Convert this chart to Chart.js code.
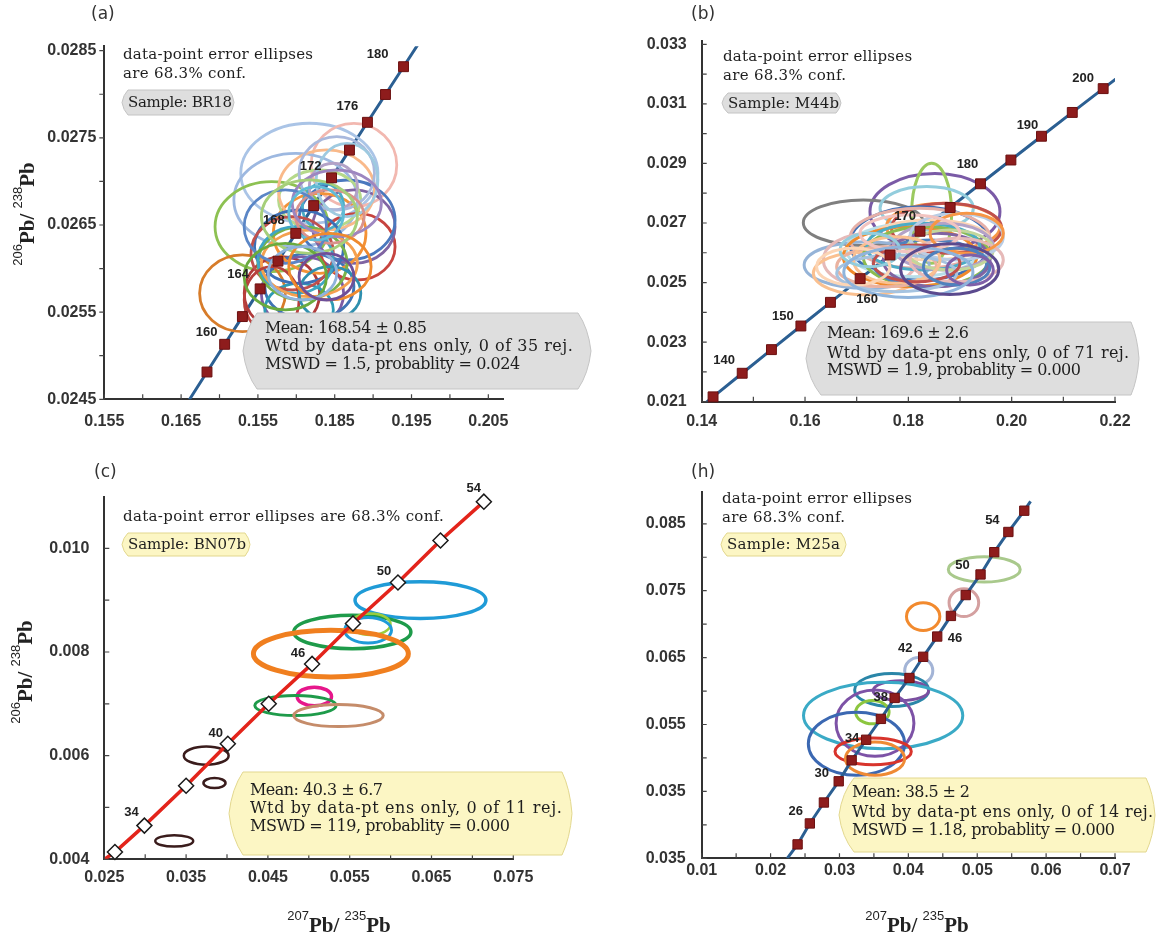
<!DOCTYPE html>
<html>
<head>
<meta charset="utf-8">
<title>U-Pb concordia diagrams</title>
<script src="https://cdn.jsdelivr.net/npm/chart.js@4.4.1/dist/chart.umd.min.js"></script>
<style>
  body { margin: 0; background: #fff; }
  #wrap { position: relative; width: 1160px; height: 942px; overflow: hidden; }
  canvas { position: absolute; }
</style>
</head>
<body>
<div id="wrap">
  <canvas id="chartA" width="600" height="450" style="left:0;top:0"></canvas>
  <canvas id="chartB" width="580" height="450" style="left:580px;top:0"></canvas>
  <canvas id="chartC" width="580" height="492" style="left:0;top:450px"></canvas>
  <canvas id="chartH" width="580" height="492" style="left:580px;top:450px"></canvas>
</div>
<script>
// ---------- (a) sample BR18 ----------
const aAgeLabels = ['', '160', '', '164', '', '168', '', '172', '', '176', '', '180'];
const aConcX = [0.16837, 0.17067, 0.17298, 0.17529, 0.17761, 0.17993, 0.18226, 0.18459, 0.18692, 0.18926, 0.19161, 0.19396];
const aConcY = [0.024813, 0.025131, 0.025449, 0.025767, 0.026085, 0.026404, 0.026722, 0.027041, 0.027359, 0.027678, 0.027997, 0.028316];
const aLineX = [0.16607, 0.19631];
const aLineY = [0.024495, 0.028635];
const aEllX  = [0.18170, 0.18750, 0.17991, 0.17679, 0.17299, 0.17813, 0.18080, 0.18170, 0.18036, 0.18795, 0.18750, 0.18661, 0.18304, 0.18304, 0.18393, 0.18348, 0.18482, 0.18036, 0.17946, 0.18080, 0.17991, 0.18170, 0.18527, 0.18661, 0.18438, 0.18527, 0.17857, 0.18170, 0.18259, 0.17679, 0.18438, 0.18438, 0.17857, 0.18080, 0.18393];
const aEllY  = [0.027093, 0.027188, 0.026787, 0.026481, 0.025716, 0.025716, 0.025716, 0.025793, 0.025525, 0.026251, 0.026481, 0.026557, 0.026404, 0.026787, 0.026902, 0.026710, 0.026940, 0.026251, 0.026175, 0.026060, 0.026098, 0.026060, 0.027093, 0.027016, 0.026596, 0.026749, 0.026481, 0.026596, 0.026634, 0.025640, 0.025716, 0.026022, 0.025907, 0.025946, 0.025907];
const aEllRx = [0.00893, 0.00558, 0.00804, 0.00737, 0.00558, 0.00491, 0.00536, 0.00580, 0.00446, 0.00491, 0.00536, 0.00625, 0.00603, 0.00536, 0.00625, 0.00268, 0.00313, 0.00580, 0.00536, 0.00580, 0.00491, 0.00625, 0.00491, 0.00402, 0.00446, 0.00580, 0.00536, 0.00625, 0.00357, 0.00357, 0.00402, 0.00536, 0.00536, 0.00446, 0.00357];
const aEllRy = [0.000574, 0.000478, 0.000535, 0.000516, 0.000440, 0.000421, 0.000421, 0.000382, 0.000306, 0.000382, 0.000421, 0.000459, 0.000459, 0.000344, 0.000459, 0.000268, 0.000268, 0.000421, 0.000421, 0.000421, 0.000382, 0.000382, 0.000421, 0.000421, 0.000306, 0.000382, 0.000421, 0.000421, 0.000306, 0.000382, 0.000306, 0.000382, 0.000382, 0.000306, 0.000268];
const aXTicks = [0.155, 0.160, 0.165, 0.170, 0.175, 0.180, 0.185, 0.190, 0.195, 0.200, 0.205];
const aXTickLabels = ['0.155', '', '0.165', '', '0.155', '', '0.185', '', '0.195', '', '0.205'];
const aYTicks = [0.0245, 0.0250, 0.0255, 0.0260, 0.0265, 0.0270, 0.0275, 0.0280, 0.0285];
const aYTickLabels = ['0.0245', '', '0.0255', '', '0.0265', '', '0.0275', '', '0.0285'];
const aMean = ['Mean: 168.54 \u00b1 0.85', 'Wtd by data-pt ens only, 0 of 35 rej.', 'MSWD = 1.5, probablity = 0.024'];

// ---------- (b) sample M44b ----------
const bAgeLabels = ['', '140', '', '150', '', '160', '', '170', '', '180', '', '190', '', '200'];
const bConcX = [0.14220, 0.14784, 0.15350, 0.15920, 0.16492, 0.17067, 0.17645, 0.18226, 0.18809, 0.19396, 0.19985, 0.20577, 0.21173, 0.21771];
const bConcY = [0.021163, 0.021955, 0.022748, 0.023542, 0.024336, 0.025131, 0.025926, 0.026722, 0.027519, 0.028316, 0.029114, 0.029912, 0.030712, 0.031511];
const bLineX = [0.13995, 0.22131];
const bLineY = [0.020846, 0.031991];
const bEllX  = [0.18515, 0.18451, 0.17128, 0.18355, 0.18676, 0.18740, 0.18225, 0.18225, 0.17193, 0.17257, 0.17193, 0.18096, 0.18418, 0.18031, 0.18355, 0.18418, 0.18548, 0.18289, 0.18676, 0.17580, 0.18805, 0.18935, 0.17774, 0.17774, 0.18935, 0.18161, 0.19129, 0.17257, 0.16934, 0.18031, 0.18935, 0.19193, 0.18000, 0.18800];
const bEllY  = [0.027379, 0.027325, 0.027010, 0.027493, 0.026876, 0.026822, 0.026318, 0.026486, 0.025590, 0.025758, 0.025311, 0.026093, 0.026429, 0.025869, 0.025869, 0.025645, 0.025758, 0.026205, 0.026205, 0.025534, 0.026093, 0.026540, 0.025311, 0.025758, 0.025758, 0.025645, 0.026654, 0.026093, 0.025534, 0.026654, 0.025534, 0.025422, 0.025350, 0.025450];
const bEllRx = [0.01258, 0.00387, 0.01161, 0.00903, 0.01097, 0.01065, 0.01355, 0.01355, 0.01210, 0.00903, 0.01032, 0.01290, 0.01161, 0.01290, 0.01226, 0.01097, 0.01032, 0.01097, 0.00968, 0.00968, 0.00839, 0.00903, 0.01161, 0.00839, 0.00903, 0.00839, 0.00710, 0.00580, 0.00710, 0.00968, 0.00645, 0.00452, 0.01250, 0.00950];
const bEllRy = [0.001286, 0.001680, 0.000762, 0.000728, 0.000784, 0.000840, 0.001230, 0.001007, 0.000784, 0.000895, 0.000727, 0.000895, 0.000672, 0.001007, 0.001007, 0.000784, 0.000895, 0.000784, 0.000784, 0.000672, 0.000672, 0.000784, 0.000616, 0.000784, 0.000727, 0.000616, 0.000672, 0.000560, 0.000616, 0.000616, 0.000616, 0.000504, 0.000850, 0.000850];
const bXTicks = [0.14, 0.15, 0.16, 0.17, 0.18, 0.19, 0.20, 0.21, 0.22];
const bXTickLabels = ['0.14', '', '0.16', '', '0.18', '', '0.20', '', '0.22'];
const bYTicks = [0.021, 0.022, 0.023, 0.024, 0.025, 0.026, 0.027, 0.028, 0.029, 0.030, 0.031, 0.032, 0.033];
const bYTickLabels = ['0.021', '', '0.023', '', '0.025', '', '0.027', '', '0.029', '', '0.031', '', '0.033'];
const bMean = ['Mean: 169.6 \u00b1 2.6', 'Wtd by data-pt ens only, 0 of 71 rej.', 'MSWD = 1.9, probablity = 0.000'];

// ---------- (c) sample BN07b ----------
const cAgeLabels = ['', '34', '', '40', '', '46', '', '50', '', '54'];
const cConcX = [0.0263, 0.0299, 0.0350, 0.0401, 0.0451, 0.0504, 0.0554, 0.0609, 0.0661, 0.0714];
const cConcY = [0.00414, 0.00465, 0.00542, 0.00623, 0.00700, 0.00777, 0.00855, 0.00934, 0.01015, 0.01090];
const cLineX = [0.0250, 0.0717];
const cLineY = [0.00400, 0.01094];
const cEllX  = [0.06365, 0.05532, 0.05755, 0.05725, 0.05270, 0.05068, 0.04837, 0.05363, 0.03746, 0.03847, 0.03355];
const cEllY  = [0.009000, 0.008387, 0.008535, 0.008420, 0.007968, 0.007142, 0.006968, 0.006774, 0.006000, 0.005471, 0.004355];
const cEllRx = [0.00800, 0.00716, 0.00244, 0.00286, 0.00947, 0.00210, 0.00497, 0.00547, 0.00274, 0.00135, 0.00232];
const cEllRy = [0.000355, 0.000323, 0.000206, 0.000245, 0.000452, 0.000180, 0.000194, 0.000213, 0.000174, 0.000097, 0.000110];
const cXTicks = [0.025, 0.030, 0.035, 0.040, 0.045, 0.050, 0.055, 0.060, 0.065, 0.070, 0.075];
const cXTickLabels = ['0.025', '', '0.035', '', '0.045', '', '0.055', '', '0.065', '', '0.075'];
const cYTicks = [0.004, 0.005, 0.006, 0.007, 0.008, 0.009, 0.010];
const cYTickLabels = ['0.004', '', '0.006', '', '0.008', '', '0.010'];
const cMean = ['Mean: 40.3 \u00b1 6.7', 'Wtd by data-pt ens only, 0 of 11 rej.', 'MSWD = 119, probablity = 0.000'];

// ---------- (h) sample M25a ----------
const hAgeLabels = ['', '26', '', '30', '', '34', '', '38', '', '42', '', '46', '', '50', '', '54', ''];
const hConcX = [0.02392, 0.02570, 0.02774, 0.02989, 0.03177, 0.03387, 0.03602, 0.03801, 0.04016, 0.04215, 0.04419, 0.04618, 0.04833, 0.05048, 0.05247, 0.05452, 0.05683];
const hConcY = [0.03708, 0.04021, 0.04334, 0.04651, 0.04964, 0.05272, 0.05584, 0.05897, 0.06195, 0.06512, 0.06815, 0.07123, 0.07435, 0.07743, 0.08076, 0.08378, 0.08696];
const hLineX = [0.02242, 0.05774];
const hLineY = [0.03500, 0.08835];
const hEllX  = [0.05102, 0.04806, 0.04215, 0.04151, 0.03758, 0.03892, 0.03634, 0.03478, 0.03516, 0.03247, 0.03489, 0.03516];
const hEllY  = [0.07818, 0.07321, 0.07113, 0.06304, 0.06016, 0.06006, 0.05634, 0.05684, 0.05520, 0.05212, 0.05098, 0.04989];
const hEllRx = [0.00522, 0.00215, 0.00242, 0.00204, 0.00538, 0.00403, 0.01156, 0.00242, 0.00565, 0.00699, 0.00554, 0.00430];
const hEllRy = [0.00189, 0.00208, 0.00208, 0.00199, 0.00248, 0.00149, 0.00496, 0.00174, 0.00496, 0.00471, 0.00199, 0.00248];
const hXTicks = [0.010, 0.015, 0.020, 0.025, 0.030, 0.035, 0.040, 0.045, 0.050, 0.055, 0.060, 0.065, 0.070];
const hXTickLabels = ['0.01', '', '0.02', '', '0.03', '', '0.04', '', '0.05', '', '0.06', '', '0.07'];
const hYTicks = [0.035, 0.040, 0.045, 0.050, 0.055, 0.060, 0.065, 0.070, 0.075, 0.080, 0.085];
const hYTickLabels = ['0.035', '', '0.035', '', '0.055', '', '0.065', '', '0.075', '', '0.085'];
const hMean = ['Mean: 38.5 \u00b1 2', 'Wtd by data-pt ens only, 0 of 14 rej.', 'MSWD = 1.18, probablity = 0.000'];

// ---------- colours ----------
const aEllColors = ['#aac4e6', '#f2b8b0', '#9db8e0', '#8dc152', '#d77c2a', '#b03a3a', '#7d5ca5', '#3f73b5', '#2e9bb5', '#c7443f', '#8064a2', '#4a78be', '#f39237', '#b5d98a', '#f9b98a', '#4bacc6', '#b3a2c7', '#3d6fb6', '#c0504d', '#79b34a', '#3fa6c4', '#f5a04f', '#a9b9dd', '#9ecae0', '#d9928c', '#9d86c0', '#5b86c6', '#a6cf7a', '#61bcd6', '#b8403c', '#2f8fae', '#ef8a2e', '#6aab3e', '#8fb3dd', '#6f4f98'];
const bEllColors = ['#7a5aa6', '#9bc95f', '#7f7f7f', '#93cddd', '#f79646', '#c0504d', '#3f6fb5', '#e6b0a8', '#95b3d7', '#e6b9b8', '#fac090', '#b7dee8', '#fbd4b4', '#f08a2c', '#8dbb4f', '#4f81bd', '#8064a2', '#4bacc6', '#b3a2c7', '#eab2a0', '#c3d69b', '#b9cde5', '#a5c3e0', '#fac090', '#e6b9b8', '#c0504d', '#f79646', '#93cddd', '#fcd5b5', '#f2c4c0', '#4f81bd', '#7f5fa8', '#8fb4dc', '#5b4a8e'];
const cEllColors = ['#1f9bd7', '#1e9b4a', '#9acd3c', '#1f9bd7', '#f07f1f', '#e6178b', '#1e9b4a', '#c58c6a', '#3a1c1c', '#3a1c1c', '#3a1c1c'];
const cEllWidths = [3.5, 3.5, 2.5, 3, 5, 3.5, 3, 3, 2.5, 2.5, 2.5];
const hEllColors = ['#a9c98c', '#d4a0a0', '#f28a2e', '#a3b4d6', '#2a86a8', '#7b4fa0', '#3aaac6', '#8cc63f', '#7d52a6', '#3b68b2', '#d8342c', '#ef8a34'];

const GREY = {fill: '#dedede', stroke: '#c4c4c4'};
const YELLOW = {fill: '#fcf6c4', stroke: '#e2d78e'};
const SERIF = '"DejaVu Serif", "Liberation Serif", serif';

// text widths (px) measured on the original figure, used to stretch the wide slab font
const panels = [
  {
    id: 'chartA', tag: '(a)', W: 600, H: 450,
    area: {left: 104.3, right: 503.3, top: 46.3, bottom: 399.3},
    xMin: 0.155, xMax: 0.20695, yMin: 0.0245, yMax: 0.02855,
    xTicks: aXTicks, xLabels: aXTickLabels, yTicks: aYTicks, yLabels: aYTickLabels,
    xPad: 13, yPad: 8, yTickOut: true,
    concX: aConcX, concY: aConcY, lineX: aLineX, lineY: aLineY, ageLabels: aAgeLabels,
    ageOff: {'160': [-18, -12], '164': [-22, -14], '168': [-22, -13], '172': [-21, -11], '176': [-20, -16], '180': [-26, -12]},
    marker: {style: 'rect', r: 7, fill: '#8e1c1c', stroke: '#6b1010', bw: 1},
    lineColor: '#2b5f92', lineW: 3,
    ell: {x: aEllX, y: aEllY, rx: aEllRx, ry: aEllRy, colors: aEllColors, w: 2.8, over: true},
    note: {x: 123, ys: [55, 74], lines: ['data-point error ellipses', 'are 68.3% conf.'], widths: [190, 123]},
    sample: {box: [122, 90, 234, 115], text: 'Sample: BR18', tx: 128, width: 104, col: GREY},
    mean: {box: [243, 313, 591, 389], dl: 14, dr: 13, tx: 265, ys: [329, 347, 365], lines: aMean, widths: [162, 308, 255], col: GREY},
    tagPos: [91, 15], yTitle: [27, 214], xTitle: null
  },
  {
    id: 'chartB', tag: '(b)', W: 580, H: 450,
    area: {left: 121.7, right: 535, top: 41.3, bottom: 401.7},
    xMin: 0.14, xMax: 0.22, yMin: 0.021, yMax: 0.0331,
    xTicks: bXTicks, xLabels: bXTickLabels, yTicks: bYTicks, yLabels: bYTickLabels,
    xPad: 10, yPad: 15, yTickOut: false,
    concX: bConcX, concY: bConcY, lineX: bLineX, lineY: bLineY, ageLabels: bAgeLabels,
    ageOff: {'140': [-18, -13], '150': [-18, -10], '160': [7, 21], '170': [-15, -15], '180': [-13, -19], '190': [-14, -11], '200': [-20, -10]},
    marker: {style: 'rect', r: 7, fill: '#8e1c1c', stroke: '#6b1010', bw: 1},
    lineColor: '#2b5f92', lineW: 3,
    ell: {x: bEllX, y: bEllY, rx: bEllRx, ry: bEllRy, colors: bEllColors, w: 3, over: true},
    note: {x: 143, ys: [57, 76], lines: ['data-point error ellipses', 'are 68.3% conf.'], widths: [189, 123]},
    sample: {box: [142, 93, 261, 113], text: 'Sample: M44b', tx: 148, width: 111, col: GREY},
    mean: {box: [226, 322, 559, 395], dl: 15, dr: 8, tx: 247, ys: [334, 354, 371], lines: bMean, widths: [142, 302, 254], col: GREY},
    tagPos: [111, 15], yTitle: null, xTitle: null
  },
  {
    id: 'chartC', tag: '(c)', W: 580, H: 492,
    area: {left: 104.3, right: 513.3, top: 46.5, bottom: 409.3},
    xMin: 0.025, xMax: 0.075, yMin: 0.004, yMax: 0.0110,
    xTicks: cXTicks, xLabels: cXTickLabels, yTicks: cYTicks, yLabels: cYTickLabels,
    xPad: 9, yPad: 15, yTickOut: false,
    concX: cConcX, concY: cConcY, lineX: cLineX, lineY: cLineY, ageLabels: cAgeLabels,
    ageOff: {'34': [-13, -13], '40': [-12, -10], '46': [-14, -10], '50': [-14, -11], '54': [-10, -13]},
    marker: {style: 'rectRot', r: 7.5, fill: '#ffffff', stroke: '#1a1a1a', bw: 1.5},
    lineColor: '#e3241b', lineW: 3.5,
    ell: {x: cEllX, y: cEllY, rx: cEllRx, ry: cEllRy, colors: cEllColors, widths: cEllWidths, over: false},
    note: {x: 123, ys: [67], lines: ['data-point error ellipses are 68.3% conf.'], widths: [321]},
    sample: {box: [122, 83, 250, 106], text: 'Sample: BN07b', tx: 128, width: 118, col: YELLOW},
    mean: {box: [229, 322, 572, 405], dl: 14, dr: 10, tx: 250, ys: [341, 359, 377], lines: cMean, widths: [133, 312, 260], col: YELLOW},
    tagPos: [94, 23], yTitle: [25, 222], xTitle: [339, 475]
  },
  {
    id: 'chartH', tag: '(h)', W: 580, H: 492,
    area: {left: 121.7, right: 535, top: 41.7, bottom: 408.3},
    xMin: 0.01, xMax: 0.07, yMin: 0.035, yMax: 0.0898,
    xTicks: hXTicks, xLabels: hXTickLabels, yTicks: hYTicks, yLabels: hYTickLabels,
    xPad: 3, yPad: 16, yTickOut: false,
    concX: hConcX, concY: hConcY, lineX: hLineX, lineY: hLineY, ageLabels: hAgeLabels,
    ageOff: {'26': [-14, -12], '30': [-17, -8], '34': [-14, -1], '38': [-14, -1], '42': [-18, -8], '46': [4, 22], '50': [-18, -9], '54': [-16, -12]},
    marker: {style: 'rect', r: 6.6, fill: '#8e1c1c', stroke: '#6b1010', bw: 1},
    lineColor: '#2b5f92', lineW: 3,
    ell: {x: hEllX, y: hEllY, rx: hEllRx, ry: hEllRy, colors: hEllColors, w: 3, over: false},
    note: {x: 142, ys: [49, 68], lines: ['data-point error ellipses', 'are 68.3% conf.'], widths: [190, 123]},
    sample: {box: [141, 83, 266, 106], text: 'Sample: M25a', tx: 147, width: 113, col: YELLOW},
    mean: {box: [259, 328, 575, 402], dl: 15, dr: 9, tx: 272, ys: [343, 363, 381], lines: hMean, widths: [118, 301, 263], col: YELLOW},
    tagPos: [111, 23], yTitle: null, xTitle: [337, 475]
  }
];

function drawEllipses(chart, p) {
  const {ctx, scales: {x, y}} = chart;
  const e = p.ell;
  ctx.save();
  e.x.forEach((cx, i) => {
    const px = x.getPixelForValue(cx);
    const py = y.getPixelForValue(e.y[i]);
    const rx = Math.abs(x.getPixelForValue(cx + e.rx[i]) - px);
    const ry = Math.abs(y.getPixelForValue(e.y[i] + e.ry[i]) - py);
    ctx.beginPath();
    ctx.ellipse(px, py, rx, ry, 0, 0, Math.PI * 2);
    ctx.strokeStyle = e.colors[i];
    ctx.lineWidth = e.widths ? e.widths[i] : e.w;
    ctx.stroke();
  });
  ctx.restore();
}

function drawTicks(chart, p) {
  const {ctx, chartArea: a, scales: {x, y}} = chart;
  ctx.save();
  ctx.strokeStyle = '#444';
  ctx.lineWidth = 1.2;
  ctx.beginPath();
  p.xTicks.forEach(v => {
    const px = x.getPixelForValue(v);
    ctx.moveTo(px, a.bottom);
    ctx.lineTo(px, a.bottom - 5);
  });
  p.yTicks.forEach(v => {
    const py = y.getPixelForValue(v);
    ctx.moveTo(a.left, py);
    ctx.lineTo(p.yTickOut ? a.left - 5 : a.left + 5, py);
  });
  ctx.stroke();
  ctx.restore();
}

function drawAgeLabels(chart, p) {
  const {ctx, scales: {x, y}} = chart;
  ctx.save();
  ctx.font = 'bold 13px "Liberation Sans", Arial, sans-serif';
  ctx.fillStyle = '#222';
  ctx.textAlign = 'center';
  ctx.textBaseline = 'middle';
  p.ageLabels.forEach((lab, i) => {
    if (!lab) return;
    const off = p.ageOff[lab] || [-18, -12];
    ctx.fillText(lab, x.getPixelForValue(p.concX[i]) + off[0], y.getPixelForValue(p.concY[i]) + off[1]);
  });
  ctx.restore();
}

function banner(ctx, b, dl, dr, col) {
  const [x0, y0, x1, y1] = b;
  const h = y1 - y0, ym = (y0 + y1) / 2;
  ctx.beginPath();
  ctx.moveTo(x0 + dl, y0);
  ctx.lineTo(x1 - dr, y0);
  ctx.quadraticCurveTo(x1 - dr * 0.2, y0 + h * 0.2, x1, ym);
  ctx.quadraticCurveTo(x1 - dr * 0.2, y1 - h * 0.2, x1 - dr, y1);
  ctx.lineTo(x0 + dl, y1);
  ctx.quadraticCurveTo(x0 + dl * 0.2, y1 - h * 0.2, x0, ym);
  ctx.quadraticCurveTo(x0 + dl * 0.2, y0 + h * 0.2, x0 + dl, y0);
  ctx.closePath();
  ctx.fillStyle = col.fill;
  ctx.fill();
  ctx.strokeStyle = col.stroke;
  ctx.lineWidth = 1;
  ctx.stroke();
}

// draw a string stretched (via letter spacing) to the width it has in the figure
function fitText(ctx, text, x, y, width) {
  ctx.letterSpacing = '0px';
  const w = ctx.measureText(text).width;
  const ls = (width - w) / Math.max(text.length - 1, 1);
  ctx.letterSpacing = ls.toFixed(2) + 'px';
  ctx.fillText(text, x, y);
  ctx.letterSpacing = '0px';
}

function isotopeTitle(ctx, cx, cy, rotated, supA, supB) {
  const big = 'bold 21px "Liberation Serif", serif';
  const small = '13px "Liberation Sans", sans-serif';
  const parts = [[supA, small, -12], ['Pb/', big, 0], [' ', big, 0], [supB, small, -12], ['Pb', big, 0]];
  ctx.save();
  ctx.translate(cx, cy);
  if (rotated) ctx.rotate(-Math.PI / 2);
  let w = 0;
  parts.forEach(pt => { ctx.font = pt[1]; w += ctx.measureText(pt[0]).width; });
  let px = -w / 2;
  ctx.fillStyle = '#222';
  ctx.textAlign = 'left';
  ctx.textBaseline = 'alphabetic';
  parts.forEach(pt => {
    ctx.font = pt[1];
    ctx.fillText(pt[0], px, 7 + pt[2]);
    px += ctx.measureText(pt[0]).width;
  });
  ctx.restore();
}

function drawNotes(chart, p) {
  const ctx = chart.ctx;
  ctx.save();
  ctx.textAlign = 'left';
  ctx.textBaseline = 'middle';
  ctx.fillStyle = '#333';
  ctx.font = '17px "DejaVu Sans", sans-serif';
  ctx.fillText(p.tag, p.tagPos[0], p.tagPos[1]);

  ctx.fillStyle = '#1e1e1e';
  ctx.font = '15px ' + SERIF;
  p.note.lines.forEach((t, i) => fitText(ctx, t, p.note.x, p.note.ys[i], p.note.widths[i]));

  const s = p.sample;
  banner(ctx, s.box, 6, 5, s.col);
  ctx.fillStyle = '#1e1e1e';
  ctx.font = '15px ' + SERIF;
  fitText(ctx, s.text, s.tx, (s.box[1] + s.box[3]) / 2 + 1, s.width);

  const m = p.mean;
  banner(ctx, m.box, m.dl, m.dr, m.col);
  ctx.fillStyle = '#1e1e1e';
  ctx.font = '16px ' + SERIF;
  m.lines.forEach((t, i) => fitText(ctx, t, m.tx, m.ys[i], m.widths[i]));
  ctx.restore();

  if (p.yTitle) isotopeTitle(ctx, p.yTitle[0], p.yTitle[1], true, '206', '238');
  if (p.xTitle) isotopeTitle(ctx, p.xTitle[0], p.xTitle[1], false, '207', '235');
}

function buildChart(p) {
  const markers = p.concX.map((v, i) => ({x: v, y: p.concY[i]}));
  const curve = [{x: p.lineX[0], y: p.lineY[0]}, ...markers, {x: p.lineX[1], y: p.lineY[1]}];
  const tickFont = {family: '"Liberation Sans", Arial, sans-serif', size: 16, weight: 'bold'};

  new Chart(document.getElementById(p.id), {
    type: 'scatter',
    data: {
      datasets: [
        {
          label: 'markers',
          data: markers,
          pointStyle: p.marker.style,
          pointRadius: p.marker.r,
          pointHoverRadius: p.marker.r,
          backgroundColor: p.marker.fill,
          borderColor: p.marker.stroke,
          borderWidth: p.marker.bw,
          showLine: false,
          clip: false
        },
        {
          label: 'concordia',
          data: curve,
          showLine: true,
          pointRadius: 0,
          borderColor: p.lineColor,
          borderWidth: p.lineW
        }
      ]
    },
    options: {
      responsive: false,
      animation: false,
      events: [],
      layout: {padding: {left: 0, top: p.area.top, right: p.W - p.area.right, bottom: 0}},
      plugins: {legend: {display: false}, tooltip: {enabled: false}},
      scales: {
        x: {
          type: 'linear',
          min: p.xMin,
          max: p.xMax,
          afterBuildTicks: s => { s.ticks = p.xTicks.map(v => ({value: v})); },
          afterFit: s => { s.height = p.H - p.area.bottom; },
          grid: {display: false, drawTicks: false},
          border: {display: true, color: '#333', width: 2},
          ticks: {
            autoSkip: false, maxRotation: 0, minRotation: 0,
            padding: p.xPad, color: '#333', font: tickFont,
            callback: (v, i) => p.xLabels[i]
          }
        },
        y: {
          type: 'linear',
          min: p.yMin,
          max: p.yMax,
          afterBuildTicks: s => { s.ticks = p.yTicks.map(v => ({value: v})); },
          afterFit: s => { s.width = p.area.left; },
          grid: {display: false, drawTicks: false},
          border: {display: true, color: '#333', width: 2},
          ticks: {
            autoSkip: false,
            padding: p.yPad, color: '#333', font: tickFont,
            callback: (v, i) => p.yLabels[i]
          }
        }
      }
    },
    plugins: [{
      id: 'concordiaExtras',
      beforeDatasetsDraw(chart) { if (!p.ell.over) drawEllipses(chart, p); },
      beforeDatasetDraw(chart, args) { if (p.ell.over && args.index === 0) drawEllipses(chart, p); },
      afterDatasetsDraw(chart) { drawTicks(chart, p); drawAgeLabels(chart, p); },
      afterDraw(chart) { drawNotes(chart, p); }
    }]
  });
}

panels.forEach(buildChart);
</script>
</body>
</html>
